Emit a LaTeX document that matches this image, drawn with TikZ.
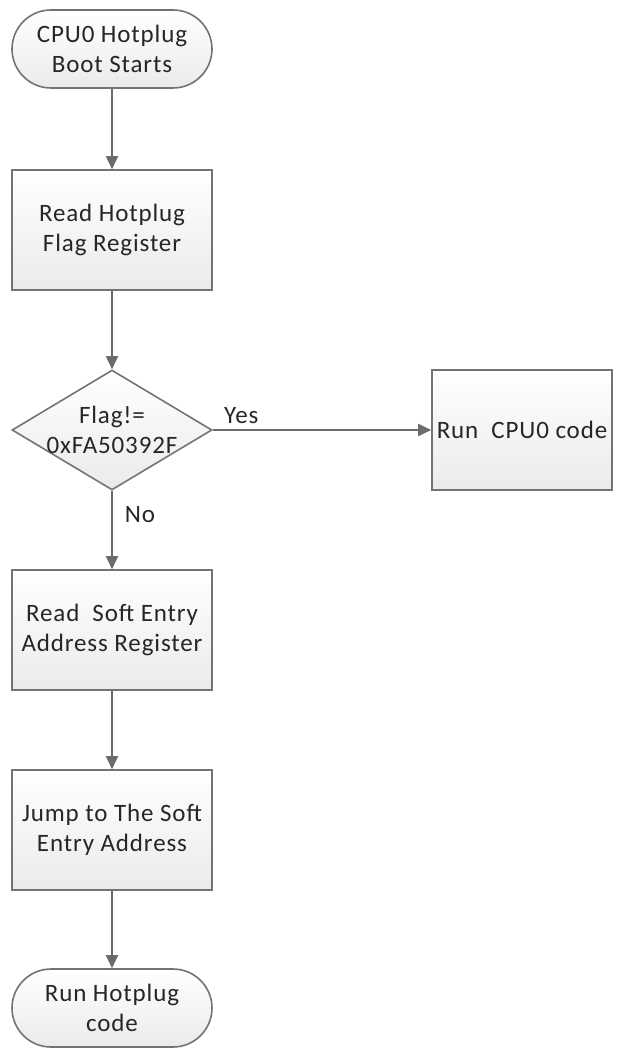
\documentclass[tikz,border=0pt]{standalone}
\usepackage{fontspec}
\setmainfont{Carlito}[LetterSpace=3.5]
\usetikzlibrary{shapes.geometric, arrows.meta}

\tikzset{
	flowbox/.style={draw=black!55, line width=1.6pt, top color=white, bottom color=black!8,
		minimum width=200pt, minimum height=120pt, align=center, inner sep=0pt},
	termbox/.style={flowbox, minimum height=78pt, rounded corners=39pt},
	decbox/.style={flowbox, shape=diamond, aspect=1.667},
	flowtext/.style={align=center, inner sep=0pt, font=\fontsize{25}{30}\selectfont, text=black!85},
	flowarrow/.style={draw=black!58, line width=1.8pt, -{Triangle[length=13pt, width=12pt]}},
}

\begin{document}
\begin{tikzpicture}[x=1pt, y=1pt, font=\fontsize{25}{30}\selectfont]
	% Fix the page size
	\useasboundingbox (0,0) rectangle (625,-1048);

	% Define the main column
	\def\xmain{112}
	\def\xside{522}

	% Draw the start terminal
	\node[termbox, flowtext] (start) at (\xmain,-49) {CPU0 Hotplug\\Boot Starts};

	% Draw the boxes of the main column
	\node[flowbox, flowtext] (readflag) at (\xmain,-230) {Read Hotplug\\Flag Register};
	\node[decbox, minimum width=200pt, minimum height=120pt] (check) at (\xmain,-430) {};
	\node[flowtext] (checktext) at (check) {Flag!=\\0xFA50392F};
	\node[flowbox, flowtext] (readentry) at (\xmain,-630) {Read~ Soft Entry\\Address Register};
	\node[flowbox, flowtext] (jump) at (\xmain,-830) {Jump to The Soft\\Entry Address};

	% Draw the end terminal
	\node[termbox, flowtext] (finish) at (\xmain,-1008) {Run Hotplug\\code};

	% The branch for the yes case
	\node[flowbox, flowtext, minimum width=180pt] (runcpu) at (\xside,-430) {Run~ CPU0 code};

	% Connectors
	\draw[flowarrow] (start) -- (readflag);
	\draw[flowarrow] (readflag) -- (check.north);
	\draw[flowarrow] (check.east) -- (runcpu.west) node[pos=0.13, above=5pt, flowtext] (yes) {Yes};
	\draw[flowarrow] (check.south) -- (readentry) node[pos=0.3, right=12pt, flowtext] (no) {No};
	\draw[flowarrow] (readentry) -- (jump);
	\draw[flowarrow] (jump) -- (finish);
\end{tikzpicture}
\end{document}
